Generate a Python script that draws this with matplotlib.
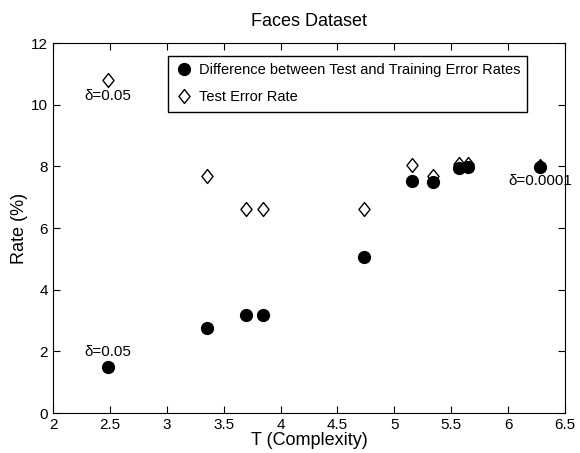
import matplotlib.pyplot as plt
from matplotlib.path import Path
import numpy as np

complexity = [2.48, 3.35, 3.70, 3.85, 4.73, 5.155, 5.34, 5.57, 5.65, 6.28]
diff_rate = [1.49, 2.77, 3.19, 3.19, 5.05, 7.52, 7.48, 7.94, 7.98, 7.98]
test_rate = [10.8, 7.7, 6.63, 6.63, 6.63, 8.05, 7.7, 8.07, 8.07, 8.0]

plt.rcParams['font.family'] = ['Liberation Sans', 'DejaVu Sans']

# MATLAB-like diamond, slightly taller than wide
diamond = Path([(0, 1), (0.8, 0), (0, -1), (-0.8, 0), (0, 1)],
               [Path.MOVETO, Path.LINETO, Path.LINETO, Path.LINETO, Path.CLOSEPOLY])

fig = plt.figure(figsize=(5.8, 4.53), dpi=100)
ax = fig.add_axes([0.0914, 0.088, 0.8826, 0.817])

ax.plot(complexity, diff_rate, 'o', color='black', markersize=8.5, zorder=4,
        label='Difference between Test and Training Error Rates')
ax.plot(complexity, test_rate, linestyle='none', marker=diamond, markerfacecolor='white',
        markeredgecolor='black', markersize=10, markeredgewidth=1.0, zorder=3,
        label='Test Error Rate')

ax.text(complexity[0], test_rate[0] - 0.3, '\u03b4=0.05', ha='center', va='top', fontsize=11)
ax.text(complexity[0], diff_rate[0] + 0.25, '\u03b4=0.05', ha='center', va='bottom', fontsize=11)
ax.text(complexity[-1], test_rate[-1] - 0.25, '\u03b4=0.0001', ha='center', va='top', fontsize=11)

ax.set_xlim(2, 6.5)
ax.set_ylim(0, 12)
ax.set_xticks(np.arange(2, 6.6, 0.5))
ax.set_xticklabels(['2', '2.5', '3', '3.5', '4', '4.5', '5', '5.5', '6', '6.5'])
ax.set_yticks(range(0, 13, 2))
ax.tick_params(direction='in', top=True, right=True, labelsize=11, length=5)
ax.set_xlabel('T (Complexity)', fontsize=13, labelpad=0)
ax.set_ylabel('Rate (%)', fontsize=13, labelpad=2)
ax.set_title('Faces Dataset', fontsize=13, pad=12)

leg = ax.legend(loc='upper left', bbox_to_anchor=(0.2246, 0.965), borderaxespad=0,
                fontsize=10.5, fancybox=False, framealpha=1, edgecolor='black',
                handletextpad=0.4, borderpad=0.5, labelspacing=0.9, handlelength=1.2)
leg.get_frame().set_linewidth(1.0)

fig.savefig('out.png', dpi=100)
